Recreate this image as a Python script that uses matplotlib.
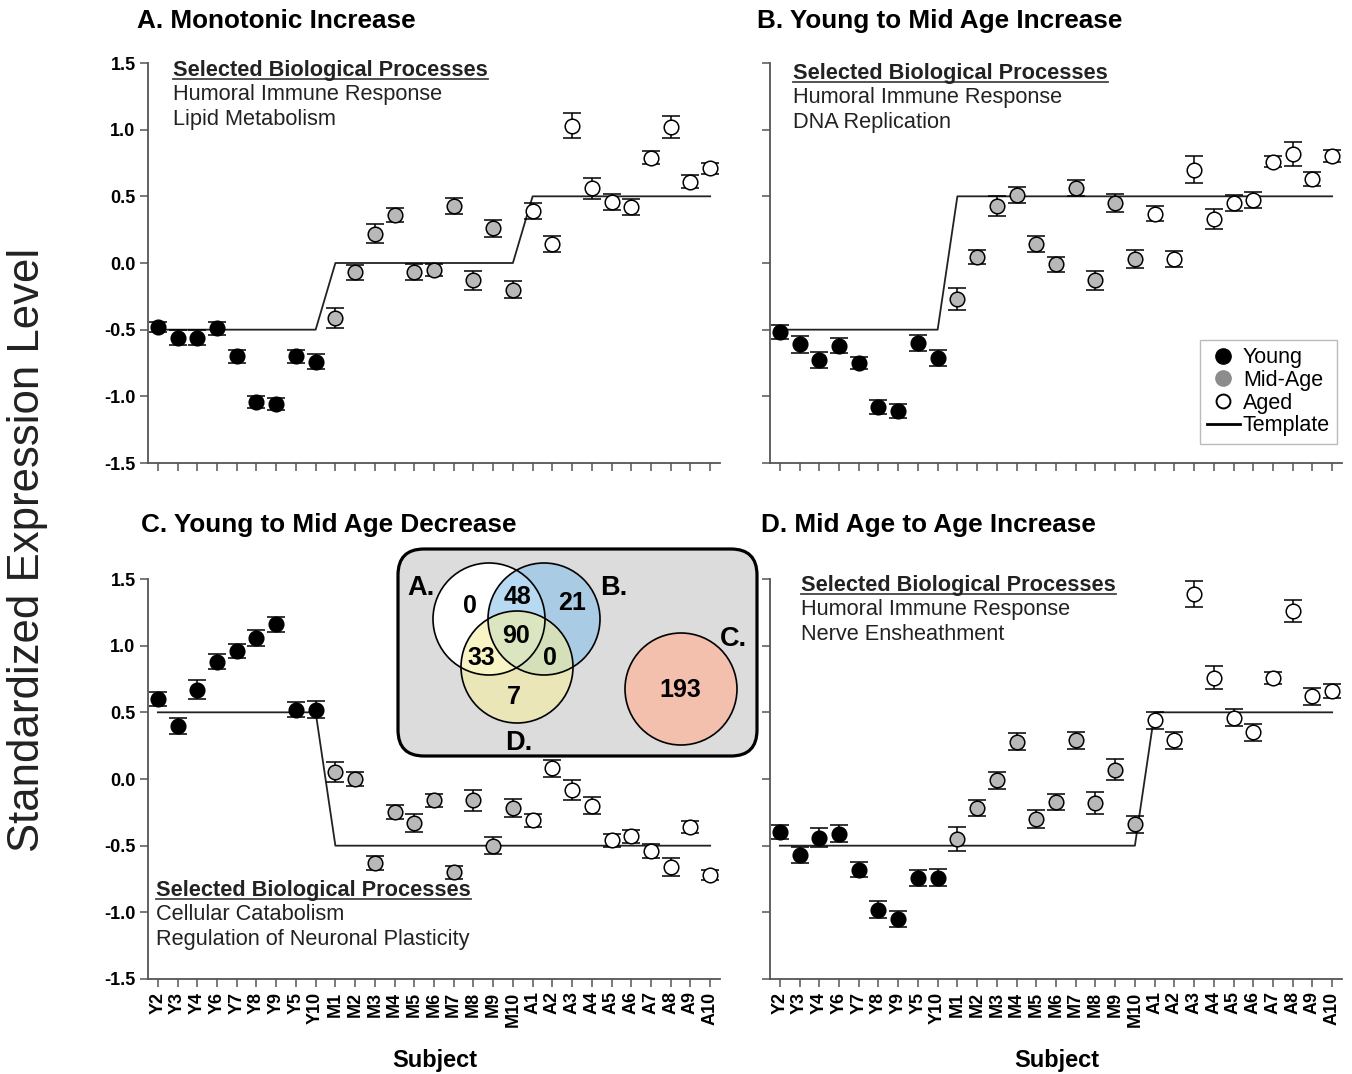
"""Template-matched expression profiles across age groups, with gene-overlap Venn inset."""
import numpy as np
import matplotlib.pyplot as plt
from matplotlib.lines import Line2D
from matplotlib.patches import Circle, FancyBboxPatch

plt.rcParams['font.family'] = ['Liberation Sans', 'DejaVu Sans']

W, H = 1352, 1074

subjects = ['Y2', 'Y3', 'Y4', 'Y6', 'Y7', 'Y8', 'Y9', 'Y5', 'Y10',
            'M1', 'M2', 'M3', 'M4', 'M5', 'M6', 'M7', 'M8', 'M9', 'M10',
            'A1', 'A2', 'A3', 'A4', 'A5', 'A6', 'A7', 'A8', 'A9', 'A10']
n_young, n_mid = 9, 10

# panel A: monotonic increase
a_mean = [-0.48, -0.56, -0.56, -0.49, -0.70, -1.04, -1.06, -0.70, -0.74,
          -0.41, -0.07, 0.22, 0.36, -0.07, -0.05, 0.43, -0.13, 0.26, -0.20,
          0.39, 0.14, 1.03, 0.56, 0.46, 0.42, 0.79, 1.02, 0.61, 0.71]
a_err = [0.04, 0.055, 0.055, 0.05, 0.047, 0.046, 0.046, 0.05, 0.054,
         0.076, 0.054, 0.069, 0.056, 0.059, 0.046, 0.059, 0.07, 0.066, 0.062,
         0.06, 0.059, 0.096, 0.078, 0.059, 0.059, 0.047, 0.085, 0.047, 0.041]
a_template = [-0.5] * 9 + [0.0] * 10 + [0.5] * 10

# panel B: young to mid age increase
b_mean = [-0.52, -0.61, -0.73, -0.62, -0.75, -1.08, -1.11, -0.60, -0.71,
          -0.27, 0.045, 0.43, 0.51, 0.14, -0.01, 0.56, -0.13, 0.45, 0.03,
          0.37, 0.03, 0.70, 0.33, 0.45, 0.47, 0.76, 0.82, 0.63, 0.80]
b_err = [0.052, 0.062, 0.06, 0.057, 0.047, 0.05, 0.05, 0.062, 0.061,
         0.082, 0.055, 0.076, 0.062, 0.06, 0.056, 0.06, 0.07, 0.065, 0.071,
         0.057, 0.061, 0.10, 0.077, 0.059, 0.059, 0.04, 0.09, 0.054, 0.044]
b_template = [-0.5] * 9 + [0.5] * 20

# panel C: young to mid age decrease
c_mean = [0.60, 0.40, 0.67, 0.88, 0.96, 1.06, 1.16, 0.52, 0.52,
          0.05, 0.00, -0.63, -0.25, -0.33, -0.16, -0.70, -0.16, -0.50, -0.22,
          -0.31, 0.08, -0.08, -0.20, -0.46, -0.43, -0.54, -0.66, -0.36, -0.72]
c_err = [0.05, 0.06, 0.07, 0.054, 0.05, 0.061, 0.056, 0.057, 0.065,
         0.075, 0.055, 0.054, 0.052, 0.066, 0.05, 0.05, 0.08, 0.062, 0.067,
         0.047, 0.062, 0.075, 0.062, 0.05, 0.047, 0.05, 0.071, 0.047, 0.04]
c_template = [0.5] * 9 + [-0.5] * 20

# panel D: mid age to age increase
d_mean = [-0.40, -0.57, -0.44, -0.41, -0.68, -0.98, -1.05, -0.74, -0.74,
          -0.45, -0.22, -0.01, 0.28, -0.30, -0.17, 0.29, -0.18, 0.07, -0.34,
          0.44, 0.29, 1.39, 0.76, 0.46, 0.35, 0.76, 1.26, 0.62, 0.66]
d_err = [0.052, 0.062, 0.069, 0.065, 0.056, 0.066, 0.062, 0.061, 0.062,
         0.087, 0.06, 0.064, 0.066, 0.065, 0.061, 0.062, 0.079, 0.077, 0.066,
         0.062, 0.062, 0.097, 0.085, 0.065, 0.062, 0.046, 0.086, 0.062, 0.05]
d_template = [-0.5] * 19 + [0.5] * 10

panel_titles = ['A. Monotonic Increase', 'B. Young to Mid Age Increase',
                'C. Young to Mid Age Decrease', 'D. Mid Age to Age Increase']
processes = [['Humoral Immune Response', 'Lipid Metabolism'],
             ['Humoral Immune Response', 'DNA Replication'],
             ['Cellular Catabolism', 'Regulation of Neuronal Plasticity'],
             ['Humoral Immune Response', 'Nerve Ensheathment']]

# Venn counts (gene overlap between templates)
venn_counts = {'A': 0, 'AB': 48, 'B': 21, 'ABD': 90, 'AD': 33, 'BD': 0, 'D': 7, 'C': 193}

GROUP_FACE = ['black', '#b8b8b8', 'white']
SPINE = '#555555'


def px_rect(left, top, right, bottom):
    return [left / W, 1 - bottom / H, (right - left) / W, (bottom - top) / H]


def draw_panel(ax, mean, err, template, show_x, show_y):
    x = np.arange(len(subjects))
    mean, err = np.asarray(mean), np.asarray(err)
    ax.plot(x, template, color='#222222', lw=1.3, zorder=2)
    bounds = [0, n_young, n_young + n_mid, len(subjects)]
    for g in range(3):
        s = slice(bounds[g], bounds[g + 1])
        ax.errorbar(x[s], mean[s], yerr=err[s], fmt='o', ms=10.5,
                    mfc=GROUP_FACE[g], mec='black', mew=1.1,
                    ecolor='black', elinewidth=1.1, capsize=6.5, capthick=1.1,
                    zorder=3)
    ax.set_xlim(-0.5, len(subjects) - 0.5)
    ax.set_ylim(-1.5, 1.5)
    ax.set_yticks([-1.5, -1.0, -0.5, 0.0, 0.5, 1.0, 1.5])
    ax.set_xticks(x)
    for side in ['top', 'right']:
        ax.spines[side].set_visible(False)
    for side in ['left', 'bottom']:
        ax.spines[side].set_color(SPINE)
        ax.spines[side].set_linewidth(1.3)
    ax.tick_params(direction='out', length=6, width=1.1, color=SPINE, pad=3)
    if show_y:
        ax.set_yticklabels([f'{v:.1f}' for v in ax.get_yticks()],
                           fontsize=13, fontweight='bold')
    else:
        ax.set_yticklabels([])
    if show_x:
        ax.set_xticklabels(subjects, rotation=90, fontsize=13, fontweight='bold')
    else:
        ax.set_xticklabels([])


fig = plt.figure(figsize=(W / 100, H / 100), dpi=100)

axes_px = [(148, 63, 720, 463), (770, 63, 1342, 463),
           (148, 579, 720, 979), (770, 579, 1342, 979)]
data = [(a_mean, a_err, a_template), (b_mean, b_err, b_template),
        (c_mean, c_err, c_template), (d_mean, d_err, d_template)]
axes = []
for i, (rect, (m, e, t)) in enumerate(zip(axes_px, data)):
    ax = fig.add_axes(px_rect(*rect))
    draw_panel(ax, m, e, t, show_x=i >= 2, show_y=i % 2 == 0)
    axes.append(ax)

# panel titles
title_pos = [(137, 21), (757, 21), (141, 525), (761, 525)]
for (tx, ty), title in zip(title_pos, panel_titles):
    fig.text(tx / W, 1 - ty / H, title, fontsize=18.8, fontweight='bold',
             ha='left', va='center')

# selected biological processes blocks (x, header baseline)
block_pos = [(173, 76), (793, 79), (156, 896), (801, 591)]
headers = []
for (bx, by), lines in zip(block_pos, processes):
    hdr = fig.text(bx / W, 1 - by / H, 'Selected Biological Processes',
                   fontsize=15.7, fontweight='bold', color='#222222',
                   ha='left', va='baseline')
    headers.append((hdr, by))
    for j, line in enumerate(lines):
        fig.text(bx / W, 1 - (by + 24.5 * (j + 1)) / H, line, fontsize=15.7,
                 color='#222222', ha='left', va='baseline')

# underline the headers
fig.canvas.draw()
renderer = fig.canvas.get_renderer()
for hdr, by in headers:
    bb = hdr.get_window_extent(renderer)
    yline = 1 - (by + 3) / H
    fig.add_artist(Line2D([bb.x0 / W, bb.x1 / W], [yline, yline],
                          transform=fig.transFigure, color='#444444', lw=1.3))

# legend in panel B
handles = [Line2D([], [], ls='none', marker='o', ms=11, mfc='black', mec='black'),
           Line2D([], [], ls='none', marker='o', ms=11, mfc='#8c8c8c', mec='#8c8c8c'),
           Line2D([], [], ls='none', marker='o', ms=10, mfc='white', mec='black', mew=1.4),
           Line2D([], [], color='black', lw=2)]
leg = axes[1].legend(handles, ['Young', 'Mid-Age', 'Aged', 'Template'],
                     loc='lower right', bbox_to_anchor=(0.992, 0.048),
                     fontsize=15.5, frameon=True, fancybox=False,
                     handlelength=1.5, handletextpad=0.15, labelspacing=0.08,
                     borderpad=0.35, borderaxespad=0)
leg.get_frame().set_edgecolor('#aaaaaa')
leg.get_frame().set_linewidth(1.0)

# axis labels
fig.text(28 / W, 1 - 550 / H, 'Standardized Expression Level', fontsize=31.5,
         rotation=90, ha='center', va='center', color='#222222')
fig.text(435 / W, 1 - 1060 / H, 'Subject', fontsize=17, fontweight='bold',
         ha='center', va='center')
fig.text(1057 / W, 1 - 1061 / H, 'Subject', fontsize=17, fontweight='bold',
         ha='center', va='center')

# Venn inset, drawn in figure pixel coordinates
ov = fig.add_axes([0, 0, 1, 1], zorder=5)
ov.set_xlim(0, W)
ov.set_ylim(H, 0)
ov.axis('off')
ov.patch.set_alpha(0)
ov.add_patch(FancyBboxPatch((398, 549), 359, 207,
                            boxstyle='round,pad=0,rounding_size=26',
                            fc='#dcdcdc', ec='black', lw=2.3))
r = 56
ov.add_patch(Circle((489, 619), r, fc='white', ec='none'))
ov.add_patch(Circle((544, 619), r, fc='#87c0e8', alpha=0.6, ec='none'))
ov.add_patch(Circle((517, 667), r, fc='#f4eea0', alpha=0.6, ec='none'))
ov.add_patch(Circle((681, 689), r, fc='#f4c0ae', ec='none'))
for cx, cy in [(489, 619), (544, 619), (517, 667), (681, 689)]:
    ov.add_patch(Circle((cx, cy), r, fc='none', ec='black', lw=1.2))

count_pos = {'A': (470, 606), 'AB': (517, 597), 'B': (572, 603), 'ABD': (516, 636),
             'AD': (481, 658), 'BD': (550, 658), 'D': (514, 697), 'C': (680, 690)}
for key, (cx, cy) in count_pos.items():
    ov.text(cx, cy, str(venn_counts[key]), fontsize=18, fontweight='bold',
            ha='center', va='center')
for label, (lx, ly) in {'A.': (421, 588), 'B.': (614, 588),
                        'C.': (733, 639), 'D.': (519, 743)}.items():
    ov.text(lx, ly, label, fontsize=19.5, fontweight='bold',
            ha='center', va='center')

fig.savefig('out.png', dpi=100, facecolor='white')
